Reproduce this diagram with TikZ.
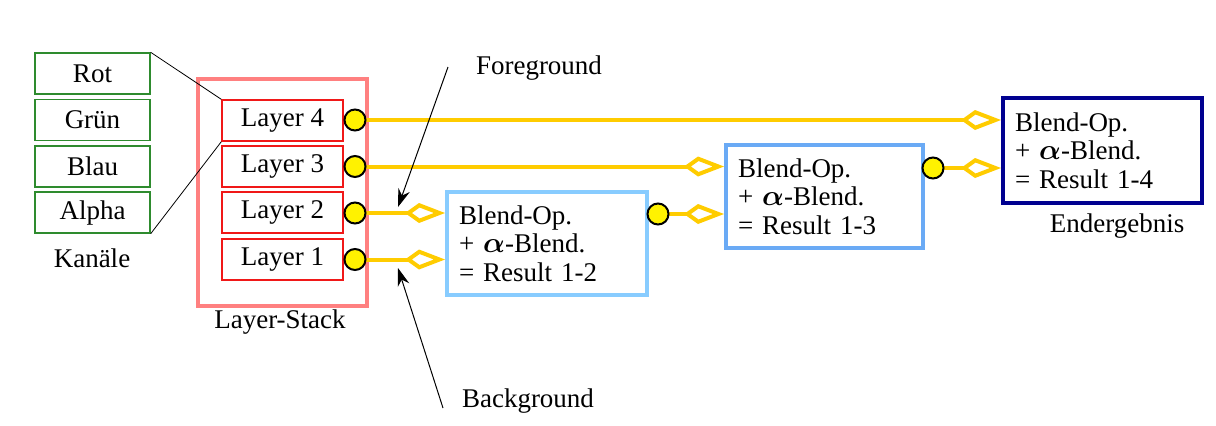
\documentclass[tikz,border=0pt]{standalone}
\usepackage{amsmath}
\usepackage{bm}
\usepackage{fontspec}
\setmainfont{Liberation Serif}
\usetikzlibrary{arrows.meta}
\definecolor{kgreen}{HTML}{2E8B2E}
\definecolor{kred}{HTML}{F01818}
\definecolor{kpink}{HTML}{FF8080}
\definecolor{kgold}{HTML}{FFCC00}
\definecolor{kblueA}{HTML}{88CCFF}
\definecolor{kblueB}{HTML}{6AAAF5}
\definecolor{knavy}{HTML}{000090}
\begin{document}
\begin{tikzpicture}[x=0.5pt,y=-0.5pt,
  every node/.style={font=\fontsize{13.5}{14.3}\selectfont},
  chan/.style={draw=kgreen,line width=0.7pt,minimum width=57.5pt,minimum height=20.5pt,inner sep=0pt},
  layerbox/.style={draw=kred,line width=0.7pt,minimum width=60.5pt,minimum height=20.5pt,inner sep=0pt},
  stackbox/.style={draw=kpink,line width=2pt,minimum width=84.5pt,minimum height=113.5pt,inner sep=0pt},
  port/.style={circle,draw=black,line width=1pt,fill=yellow,minimum size=10.5pt,inner sep=0pt},
  blendbox/.style={line width=2pt,text width=88pt,align=left,inner xsep=6pt,inner ysep=0pt,minimum height=51.5pt},
  flow/.style={draw=kgold,line width=2pt,-{Kite[open,length=20pt,width=10pt,inset=7pt,line width=2pt,fill=white]}},
  thinline/.style={draw=black,line width=0.4pt},
  pointer/.style={draw=black,line width=0.5pt,-{Stealth[length=9pt,width=6pt]}},
  lbl/.style={inner sep=0pt}
]
\useasboundingbox[fill=white] (0,0) rectangle (1216,425);

% channels
\node[chan] (rot) at (92.5,73.5) {Rot};
\node[chan] (gruen) at (92.5,120) {Grün};
\node[chan] (blau) at (92.5,166.5) {Blau};
\node[chan] (alpha) at (92.5,212.5) {Alpha};
\node[lbl] (kanaele) at (92,258) {Kanäle};

% layer stack
\node[stackbox] (stack) at (282.5,192.5) {};
\node[layerbox] (l4) at (282.5,120.5) {Layer 4};
\node[layerbox] (l3) at (282.5,166.5) {Layer 3};
\node[layerbox] (l2) at (282.5,212.5) {Layer 2};
\node[layerbox] (l1) at (282.5,259.5) {Layer 1};
\node[lbl] (stacklbl) at (280,322) {Layer-Stack};

\draw[thinline] (rot.north east) -- (l4.north west);
\draw[thinline] (alpha.south east) -- (l4.south west);

% blend boxes
\node[blendbox,draw=kblueA] (b1) at (547,243.5) {Blend-Op.\\+ $\bm{\alpha}$-Blend.\\= Result 1-2};
\node[blendbox,draw=kblueB,text width=86.5pt] (b2) at (824.5,196.5) {Blend-Op.\\+ $\bm{\alpha}$-Blend.\\= Result 1-3};
\node[blendbox,draw=knavy,text width=87.5pt,minimum height=52.5pt] (b3) at (1102.5,150.5) {Blend-Op.\\+ $\bm{\alpha}$-Blend.\\= Result 1-4};
\node[lbl] (endlbl) at (1117,226) {Endergebnis};

% flows
\draw[flow] (355,120) -- (355,120 -| b3.west);
\draw[flow] (355,166.5) -- (355,166.5 -| b2.west);
\draw[flow] (355,213) -- (355,213 -| b1.west);
\draw[flow] (355,259.5) -- (355,259.5 -| b1.west);
\draw[flow] (658,214) -- (658,214 -| b2.west);
\draw[flow] (933,168) -- (933,168 -| b3.west);

% ports
\node[port] (p4) at (355,120) {};
\node[port] (p3) at (355,166.5) {};
\node[port] (p2) at (355,213) {};
\node[port] (p1) at (355,259.5) {};
\node[port] (o1) at (658,214) {};
\node[port] (o2) at (933,168) {};

% foreground / background
\node[lbl] (fg) at (539,68) {Foreground};
\node[lbl] (bg) at (528,401) {Background};
\coordinate (fgt) at (448,67);
\coordinate (fgh) at (398,207);
\coordinate (bgt) at (443,408);
\coordinate (bgh) at (398,268);
\draw[pointer] (fgt) -- (fgh);
\draw[pointer] (bgt) -- (bgh);
\end{tikzpicture}
\end{document}
